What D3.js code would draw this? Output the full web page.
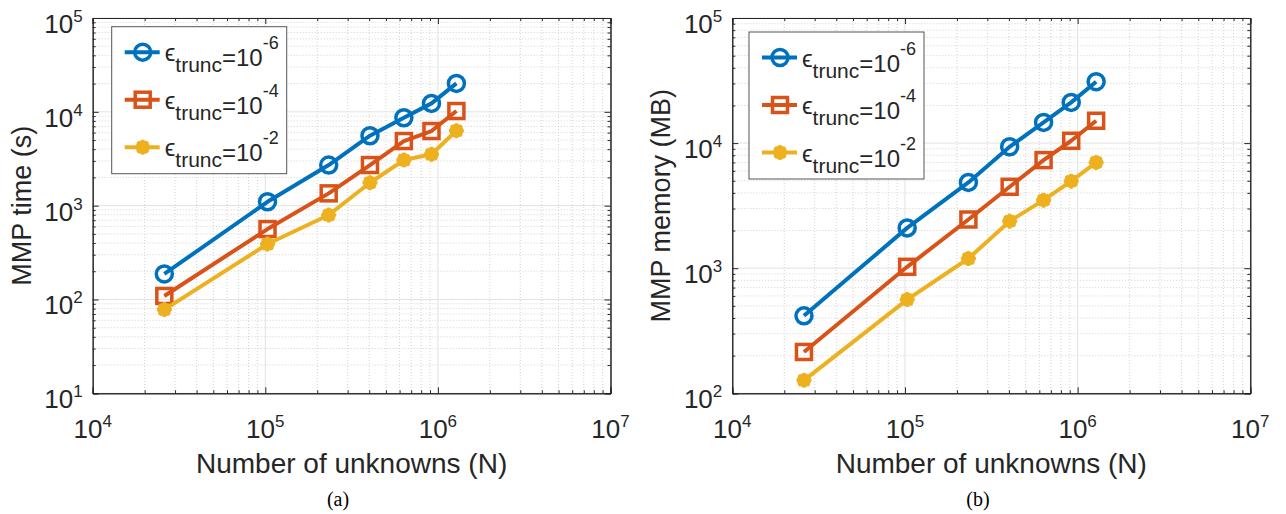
<!DOCTYPE html>
<html>
<head>
<meta charset="utf-8">
<script src="https://cdn.jsdelivr.net/npm/d3@7"></script>
<style>
  body { margin: 0; background: #fff; }
  text { font-family: "Liberation Sans", Arial, sans-serif; fill: #262626; }
</style>
</head>
<body>
<div id="chart-area"></div>
<script>
// values
const unknowns = [26000, 103000, 233000, 404000, 635000, 918000, 1280000]
const timeE6 = [187, 1100, 2710, 5560, 8650, 12300, 20100]
const timeE4 = [109, 563, 1352, 2710, 4885, 6240, 10200]
const timeE2 = [78, 390, 794, 1754, 3063, 3524, 6290]
const memE6 = [416, 2100, 4850, 9350, 14640, 21150, 30950]
const memE4 = [214, 1026, 2450, 4475, 7310, 10440, 15090]
const memE2 = [127, 561, 1195, 2377, 3500, 4966, 7000]
const truncExps = ["-6", "-4", "-2"]
const xTicks = [1e4, 1e5, 1e6, 1e7]
const timeTicks = [1e1, 1e2, 1e3, 1e4, 1e5]
const memTicks = [1e2, 1e3, 1e4, 1e5]

const COLORS = ["#0072BD", "#D95319", "#EDB120"]
const MARKERS = ["circle", "square", "star"]

const svg = d3.select("#chart-area").append("svg")
  .attr("width", 1286)
  .attr("height", 514)

function minors(lo, hi) {
  const out = []
  for (let e = Math.log10(lo); e < Math.log10(hi); e++) {
    for (let k = 2; k <= 9; k++) out.push(k * Math.pow(10, e))
  }
  return out
}

function powLabel(sel, v) {
  sel.append("tspan").text("10")
  sel.append("tspan")
    .attr("dy", -11)
    .attr("font-size", "17px")
    .text(Math.round(Math.log10(v)))
}

function drawMarker(g, type, color, cx, cy) {
  if (type === "circle") {
    g.append("circle")
      .attr("cx", cx).attr("cy", cy).attr("r", 8)
      .attr("fill", "none").attr("stroke", color).attr("stroke-width", 3.5)
  } else if (type === "square") {
    g.append("rect")
      .attr("x", cx - 7.5).attr("y", cy - 7.5)
      .attr("width", 15).attr("height", 15)
      .attr("fill", "none").attr("stroke", color).attr("stroke-width", 3.5)
  } else {
    // matlab '*' with a thick line ends up a blob
    g.append("circle")
      .attr("cx", cx).attr("cy", cy).attr("r", 7)
      .attr("fill", color)
    const r = 7.5
    const d = r * 0.707
    g.append("path")
      .attr("d", `M${cx - r},${cy}H${cx + r}M${cx},${cy - r}V${cy + r}` +
        `M${cx - d},${cy - d}L${cx + d},${cy + d}M${cx - d},${cy + d}L${cx + d},${cy - d}`)
      .attr("stroke", color).attr("stroke-width", 3).attr("fill", "none")
  }
}

function drawPanel(p) {
  const W = p.right - p.left
  const H = p.bottom - p.top
  const g = svg.append("g").attr("transform", `translate(${p.left}, ${p.top})`)

  const x = d3.scaleLog().domain([1e4, 1e7]).range([0, W])
  const y = d3.scaleLog().domain(p.yDomain).range([H, 0])

  // minor grid (dotted)
  g.selectAll(".xminor").data(minors(1e4, 1e7)).enter().append("line")
    .attr("x1", d => x(d)).attr("x2", d => x(d))
    .attr("y1", 0).attr("y2", H)
    .attr("stroke", "#d2d2d2").attr("stroke-dasharray", "1,2")
  g.selectAll(".yminor").data(minors(p.yDomain[0], p.yDomain[1])).enter().append("line")
    .attr("y1", d => y(d)).attr("y2", d => y(d))
    .attr("x1", 0).attr("x2", W)
    .attr("stroke", "#d2d2d2").attr("stroke-dasharray", "1,2")

  // major grid
  g.selectAll(".xmajor").data(xTicks).enter().append("line")
    .attr("x1", d => x(d)).attr("x2", d => x(d))
    .attr("y1", 0).attr("y2", H)
    .attr("stroke", "#e2e2e2")
  g.selectAll(".ymajor").data(p.yTicks).enter().append("line")
    .attr("y1", d => y(d)).attr("y2", d => y(d))
    .attr("x1", 0).attr("x2", W)
    .attr("stroke", "#e2e2e2")

  // ticks on all four sides, pointing inward
  const xm = minors(1e4, 1e7)
  const ym = minors(p.yDomain[0], p.yDomain[1])
  const axes = [
    [d3.axisBottom(x).tickValues(xTicks).tickSize(-6), `translate(0, ${H})`],
    [d3.axisBottom(x).tickValues(xm).tickSize(-3), `translate(0, ${H})`],
    [d3.axisTop(x).tickValues(xTicks).tickSize(-6), ""],
    [d3.axisTop(x).tickValues(xm).tickSize(-3), ""],
    [d3.axisLeft(y).tickValues(p.yTicks).tickSize(-6), ""],
    [d3.axisLeft(y).tickValues(ym).tickSize(-3), ""],
    [d3.axisRight(y).tickValues(p.yTicks).tickSize(-6), `translate(${W}, 0)`],
    [d3.axisRight(y).tickValues(ym).tickSize(-3), `translate(${W}, 0)`]
  ]
  axes.forEach(([a, tr]) => {
    const ag = g.append("g").attr("transform", tr).call(a.tickFormat(""))
    ag.select(".domain").attr("stroke", "#262626").attr("stroke-width", 1)
    ag.selectAll(".tick line").attr("stroke", "#262626")
  })

  // tick labels
  xTicks.forEach(v => {
    g.append("text")
      .attr("x", x(v)).attr("y", H + 45)
      .attr("text-anchor", "middle")
      .attr("font-size", "26px")
      .call(powLabel, v)
  })
  p.yTicks.forEach(v => {
    g.append("text")
      .attr("x", -10).attr("y", y(v) + 15)
      .attr("text-anchor", "end")
      .attr("font-size", "26px")
      .call(powLabel, v)
  })

  // axis labels
  g.append("text")
    .attr("x", W / 2).attr("y", H + 80)
    .attr("text-anchor", "middle")
    .attr("font-size", "28px")
    .text("Number of unknowns (N)")
  g.append("text")
    .attr("transform", "rotate(-90)")
    .attr("x", -H / 2).attr("y", -62)
    .attr("text-anchor", "middle")
    .attr("font-size", "27px")
    .text(p.ylabel)

  // caption
  svg.append("text")
    .attr("x", p.captionX).attr("y", 506)
    .attr("text-anchor", "middle")
    .style("font-family", "'Liberation Serif', 'Times New Roman', serif")
    .style("fill", "#000")
    .attr("font-size", "20px")
    .text(p.caption)

  // series
  const line = d3.line().x(d => x(d[0])).y(d => y(d[1]))
  p.series.forEach((vals, i) => {
    const pts = unknowns.map((n, j) => [n, vals[j]])
    g.append("path")
      .datum(pts)
      .attr("d", line)
      .attr("fill", "none")
      .attr("stroke", COLORS[i])
      .attr("stroke-width", 4)
      .attr("stroke-linejoin", "round")
    pts.forEach(d => drawMarker(g, MARKERS[i], COLORS[i], x(d[0]), y(d[1])))
  })

  // legend
  const lg = svg.append("g").attr("transform", `translate(${p.legend[0]}, ${p.legend[1]})`)
  lg.append("rect")
    .attr("width", 175).attr("height", 147)
    .attr("fill", "#fff").attr("stroke", "#555").attr("stroke-width", 1)
  truncExps.forEach((ex, i) => {
    const ry = 25.5 + i * 47.5
    lg.append("line")
      .attr("x1", 13).attr("x2", 48).attr("y1", ry).attr("y2", ry)
      .attr("stroke", COLORS[i]).attr("stroke-width", 4)
    drawMarker(lg, MARKERS[i], COLORS[i], 31, ry)
    const t = lg.append("text")
      .attr("x", 53).attr("y", ry + 14)
      .attr("font-size", "24px")
    t.append("tspan").attr("dy", -5).text("\u03f5")
    t.append("tspan").attr("dy", 11).attr("font-size", "21px").text("trunc")
    t.append("tspan").attr("dy", -6).text("=10")
    t.append("tspan").attr("dy", -17).attr("font-size", "18px").text(ex)
  })
}

drawPanel({
  left: 92.7, right: 610.5, top: 18, bottom: 393.3,
  yDomain: [1e1, 1e5], yTicks: timeTicks,
  ylabel: "MMP time (s)", caption: "(a)", captionX: 338,
  legend: [111.7, 26.7],
  series: [timeE6, timeE4, timeE2]
})

drawPanel({
  left: 732.3, right: 1250.3, top: 18, bottom: 393.3,
  yDomain: [1e2, 1e5], yTicks: memTicks,
  ylabel: "MMP memory (MB)", caption: "(b)", captionX: 978,
  legend: [749, 32],
  series: [memE6, memE4, memE2]
})
</script>
</body>
</html>
